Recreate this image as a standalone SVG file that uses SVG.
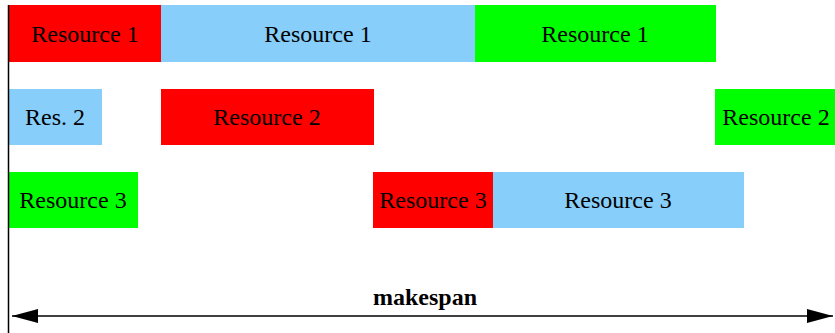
<svg xmlns="http://www.w3.org/2000/svg" width="835" height="333" viewBox="0 0 835 333">
<style>
.r{fill:#ff0000}.b{fill:#87cefa}.g{fill:#00ff00}
text{font-family:"Liberation Serif",serif;font-size:24px;fill:#000;text-anchor:middle}
.bold{font-weight:bold}
</style>
<defs>
<marker id="ah" markerWidth="26" markerHeight="14" refX="26" refY="7" orient="auto-start-reverse" markerUnits="userSpaceOnUse">
<path d="M0,0 L26,7 L0,14 Z" fill="#000"/>
</marker>
</defs>
<g id="r1a"><rect class="r" x="9" y="5" width="152" height="57"/><text x="85" y="42">Resource 1</text></g>
<g id="r1b"><rect class="b" x="161" y="5" width="314" height="57"/><text x="318" y="42">Resource 1</text></g>
<g id="r1c"><rect class="g" x="475" y="5" width="241" height="57"/><text x="595" y="42">Resource 1</text></g>
<g id="r2a"><rect class="b" x="9" y="89" width="93" height="56"/><text x="55" y="125">Res. 2</text></g>
<g id="r2b"><rect class="r" x="161" y="89" width="213" height="56"/><text x="267" y="125">Resource 2</text></g>
<g id="r2c"><rect class="g" x="715" y="89" width="120" height="56"/><text x="776" y="125">Resource 2</text></g>
<g id="r3a"><rect class="g" x="9" y="172" width="129" height="56"/><text x="73" y="208">Resource 3</text></g>
<g id="r3b"><rect class="r" x="373" y="172" width="120" height="56"/><text x="433" y="208">Resource 3</text></g>
<g id="r3c"><rect class="b" x="493" y="172" width="251" height="56"/><text x="618" y="208">Resource 3</text></g>
<g id="connectors">
<line x1="8.5" y1="5" x2="8.5" y2="333" stroke="#000" stroke-width="1.5"/>
<line x1="12" y1="316" x2="833" y2="316" stroke="#000" stroke-width="1.5" marker-start="url(#ah)" marker-end="url(#ah)"/>
<text class="bold" x="425" y="305">makespan</text>
</g>
</svg>
